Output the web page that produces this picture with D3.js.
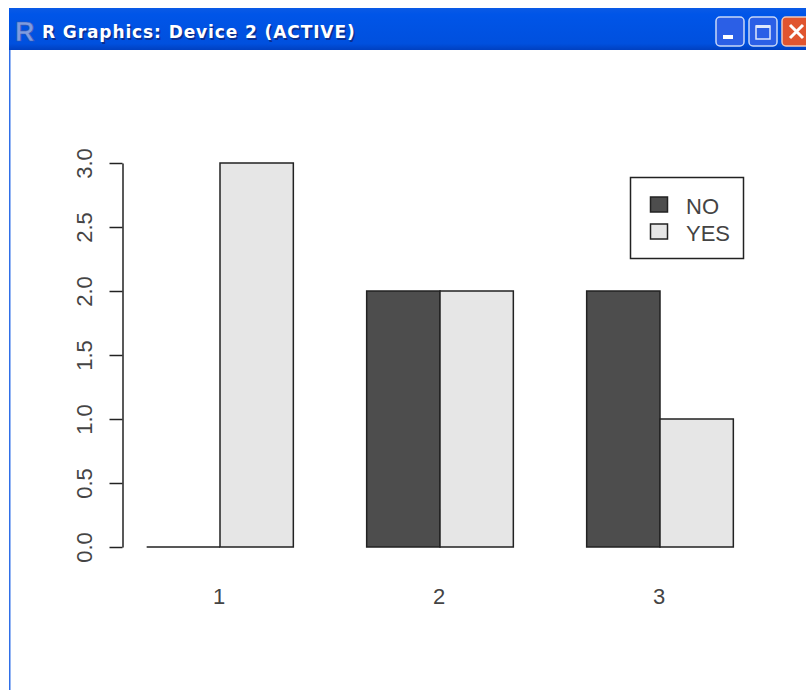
<!DOCTYPE html>
<html>
<head>
<meta charset="utf-8">
<script src="https://cdn.jsdelivr.net/npm/d3@7"></script>
<style>
  html, body { margin: 0; padding: 0; background: #fff; overflow: hidden; }
  svg { display: block; }
  text { font-family: "Liberation Sans", Arial, sans-serif; fill: #444; }
</style>
</head>
<body>
<div id="chart"></div>
<script>
var categories = ["1", "2", "3"];
var seriesNames = ["NO", "YES"];
var noValues = [0, 2, 2];
var yesValues = [3, 2, 1];
var yTicks = [0, 0.5, 1, 1.5, 2, 2.5, 3];
var seriesColors = ["#4d4d4d", "#e6e6e6"];
var windowTitle = "R Graphics: Device 2 (ACTIVE)";

var svg = d3.select("#chart").append("svg")
    .attr("width", 806)
    .attr("height", 690);

var defs = svg.append("defs");
var titleGrad = defs.append("linearGradient")
    .attr("id", "titlebar").attr("x1", 0).attr("y1", 0).attr("x2", 0).attr("y2", 1);
titleGrad.append("stop").attr("offset", "0").attr("stop-color", "#0a5ae6");
titleGrad.append("stop").attr("offset", "0.15").attr("stop-color", "#0055e8");
titleGrad.append("stop").attr("offset", "0.85").attr("stop-color", "#0050de");
titleGrad.append("stop").attr("offset", "1").attr("stop-color", "#0040c0");

// Window frame, the XP style title bar around the plot
svg.append("rect").attr("x", 9).attr("y", 8).attr("width", 797).attr("height", 42)
    .attr("fill", "url(#titlebar)");
svg.append("rect").attr("x", 9).attr("y", 50).attr("width", 1.5).attr("height", 640)
    .attr("fill", "#2f6fe8");

svg.append("text")
    .attr("x", 15).attr("y", 41)
    .style("font-size", "27px")
    .style("font-weight", "bold")
    .style("fill", "#7f9ce0")
    .style("stroke", "#3a58b0")
    .style("stroke-width", 0.6)
    .text("R");

// Title text with its drop shadow
[["#0a2f90", 43.5, 39.5], ["#fff", 42, 38]].forEach(function (t) {
  svg.append("text")
      .attr("x", t[1]).attr("y", t[2])
      .style("font-family", "'DejaVu Sans', sans-serif")
      .style("font-size", "17px")
      .style("font-weight", "bold")
      .style("letter-spacing", "0.9px")
      .style("fill", t[0])
      .text(windowTitle);
});

// Minimize, maximize and close buttons
var buttons = svg.append("g");
buttons.append("rect").attr("x", 716).attr("y", 17).attr("width", 28).attr("height", 29).attr("rx", 4)
    .attr("fill", "#2b5fe6").attr("stroke", "#c8d8f8").attr("stroke-width", 1.5);
buttons.append("rect").attr("x", 723).attr("y", 35).attr("width", 10).attr("height", 4).attr("fill", "#fff");
buttons.append("rect").attr("x", 749).attr("y", 17).attr("width", 28).attr("height", 29).attr("rx", 4)
    .attr("fill", "#2b5fe6").attr("stroke", "#c8d8f8").attr("stroke-width", 1.5);
buttons.append("rect").attr("x", 756).attr("y", 26).attr("width", 14).attr("height", 13)
    .attr("fill", "none").attr("stroke", "#dfe8fb").attr("stroke-width", 1.5);
buttons.append("rect").attr("x", 756).attr("y", 25).attr("width", 14).attr("height", 3).attr("fill", "#dfe8fb");
buttons.append("rect").attr("x", 782).attr("y", 17).attr("width", 30).attr("height", 29).attr("rx", 4)
    .attr("fill", "#e0552f").attr("stroke", "#f0c8b8").attr("stroke-width", 1.5);
buttons.append("path").attr("d", "M790,25L803,38M803,25L790,38")
    .attr("stroke", "#fff").attr("stroke-width", 3);

// Scales
var xGroup = d3.scaleBand()
    .domain(categories)
    .range([110, 770])
    .paddingInner(1 / 3)
    .paddingOuter(1 / 6);
var xBar = d3.scaleBand()
    .domain(seriesNames)
    .range([0, xGroup.bandwidth()]);
var yScale = d3.scaleLinear().domain([0, 3]).range([547, 163]);
var color = d3.scaleOrdinal().domain(seriesNames).range(seriesColors);

var barData = [];
categories.forEach(function (c, i) {
  barData.push({ cat: c, name: "NO", value: noValues[i] });
  barData.push({ cat: c, name: "YES", value: yesValues[i] });
});

// Paths, not rects: the zero bar still has to show its base line
svg.append("g").selectAll("path")
    .data(barData)
  .enter().append("path")
    .attr("d", function (d) {
      var x0 = xGroup(d.cat) + xBar(d.name);
      var path = d3.path();
      path.rect(x0, yScale(d.value), xBar.bandwidth(), yScale(0) - yScale(d.value));
      return path.toString();
    })
    .attr("fill", function (d) { return color(d.name); })
    .attr("stroke", "#222")
    .attr("stroke-width", 1.5);

// Y axis, R style with rotated labels
var yAxis = d3.axisLeft(yScale)
    .tickValues(yTicks)
    .tickFormat(d3.format(".1f"))
    .tickSize(13)
    .tickSizeOuter(0)
    .tickPadding(0);

var yG = svg.append("g")
    .attr("transform", "translate(122.5,0)")
    .call(yAxis);
yG.selectAll("path, line").attr("stroke", "#222").attr("stroke-width", 1.5);
yG.selectAll("text")
    .attr("x", 0).attr("y", 0).attr("dy", 0)
    .attr("transform", "translate(-31,0) rotate(-90)")
    .attr("text-anchor", "middle")
    .style("font-family", "'Liberation Sans', Arial, sans-serif")
    .style("font-size", "22px")
    .style("fill", "#444");

// Category labels, no axis line in barplot
svg.append("g").selectAll("text")
    .data(categories)
  .enter().append("text")
    .attr("x", function (d) { return xGroup(d) + xGroup.bandwidth() / 2 - 1; })
    .attr("y", 604)
    .attr("text-anchor", "middle")
    .style("font-size", "22px")
    .text(function (d) { return d; });

// Legend
var legend = svg.append("g");
legend.append("rect")
    .attr("x", 630.5).attr("y", 177.5).attr("width", 113).attr("height", 81)
    .attr("fill", "#fff").attr("stroke", "#222").attr("stroke-width", 1.5);
var legendY = d3.scalePoint().domain(seriesNames).range([205, 232]);
var items = legend.selectAll("g")
    .data(seriesNames)
  .enter().append("g")
    .attr("transform", function (d) { return "translate(0," + legendY(d) + ")"; });
items.append("rect")
    .attr("x", 650.5).attr("y", -8).attr("width", 17).attr("height", 15)
    .attr("fill", function (d) { return color(d); })
    .attr("stroke", "#222").attr("stroke-width", 1.5);
items.append("text")
    .attr("x", 686).attr("y", 9)
    .style("font-size", "22px")
    .text(function (d) { return d; });
</script>
</body>
</html>
